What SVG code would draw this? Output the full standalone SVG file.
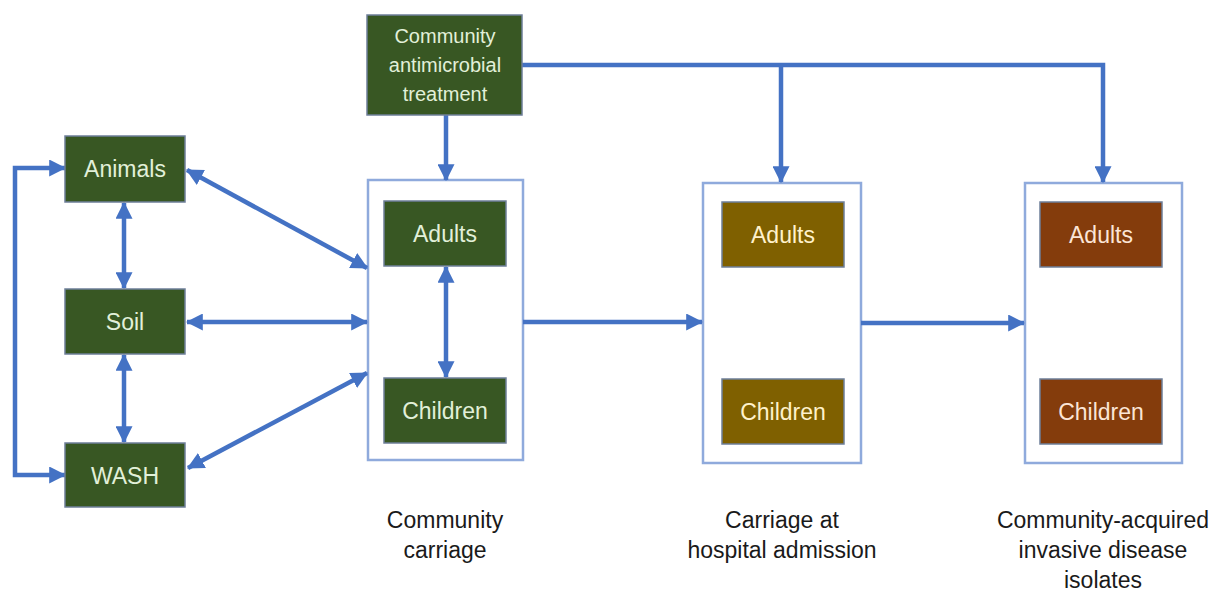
<svg xmlns="http://www.w3.org/2000/svg" width="1228" height="596" viewBox="0 0 1228 596">
  <style>
    text { font-family: "Liberation Sans", Arial, sans-serif; text-anchor: middle; }
    .green { fill: #385723; stroke: #6e7f99; stroke-width: 1.5; }
    .gold { fill: #7f6000; stroke: #6e7f99; stroke-width: 1.5; }
    .rust { fill: #843c0c; stroke: #6e7f99; stroke-width: 1.5; }
    .frame { fill: #ffffff; stroke: #8faadc; stroke-width: 2.5; }
    .t-green { fill: #e2f0d9; font-size: 23px; }
    .t-gold { fill: #fff2cc; font-size: 23px; }
    .t-rust { fill: #fbe5d6; font-size: 23px; }
    .t-small { fill: #e2f0d9; font-size: 20px; }
    .caption { fill: #1a1a1a; font-size: 23px; }
    .link { fill: none; stroke: #4472c4; stroke-width: 4.5; }
  </style>
  <defs>
    <marker id="head" viewBox="0 0 14 14" refX="13" refY="7" markerWidth="17" markerHeight="17" markerUnits="userSpaceOnUse" orient="auto-start-reverse">
      <path d="M0,0 L14,7 L0,14 z" fill="#4472c4"/>
    </marker>
  </defs>

  <rect width="1228" height="596" fill="#ffffff"/>

  <!-- stage frames -->
  <g id="frame-community">
    <rect class="frame" x="368" y="180" width="155" height="280"/>
  </g>
  <g id="frame-hospital">
    <rect class="frame" x="703" y="183" width="158" height="280"/>
  </g>
  <g id="frame-invasive">
    <rect class="frame" x="1025" y="183" width="157" height="280"/>
  </g>

  <!-- connectors -->
  <g id="connectors">
    <path class="link" d="M65,168 L15,168 L15,475 L65,475" marker-start="url(#head)" marker-end="url(#head)"/>
    <path class="link" d="M124,203 L124,288" marker-start="url(#head)" marker-end="url(#head)"/>
    <path class="link" d="M124,355 L124,442" marker-start="url(#head)" marker-end="url(#head)"/>
    <path class="link" d="M187,170 L367,268" marker-start="url(#head)" marker-end="url(#head)"/>
    <path class="link" d="M187,322 L367,322" marker-start="url(#head)" marker-end="url(#head)"/>
    <path class="link" d="M188,468 L367,373" marker-start="url(#head)" marker-end="url(#head)"/>
    <path class="link" d="M446,115 L446,180" marker-end="url(#head)"/>
    <path class="link" d="M446,267 L446,377" marker-start="url(#head)" marker-end="url(#head)"/>
    <path class="link" d="M523,322 L702,322" marker-end="url(#head)"/>
    <path class="link" d="M861,323 L1024,323" marker-end="url(#head)"/>
    <path class="link" d="M522,65 L1103,65 L1103,182" marker-end="url(#head)"/>
    <path class="link" d="M781,65 L781,182" marker-end="url(#head)"/>
  </g>

  <!-- environmental sources -->
  <g id="animals">
    <rect class="green" x="65" y="136" width="120" height="66"/>
    <text class="t-green" x="125" y="177">Animals</text>
  </g>
  <g id="soil">
    <rect class="green" x="65" y="289" width="120" height="65"/>
    <text class="t-green" x="125" y="330">Soil</text>
  </g>
  <g id="wash">
    <rect class="green" x="65" y="443" width="120" height="64"/>
    <text class="t-green" x="125" y="484">WASH</text>
  </g>

  <!-- treatment -->
  <g id="treatment">
    <rect class="green" x="367" y="15" width="155" height="100"/>
    <text class="t-small" x="445" y="43">Community</text>
    <text class="t-small" x="445" y="72">antimicrobial</text>
    <text class="t-small" x="445" y="101">treatment</text>
  </g>

  <!-- community carriage -->
  <g id="community-adults">
    <rect class="green" x="384" y="201" width="122" height="65"/>
    <text class="t-green" x="445" y="242">Adults</text>
  </g>
  <g id="community-children">
    <rect class="green" x="384" y="378" width="122" height="65"/>
    <text class="t-green" x="445" y="419">Children</text>
  </g>

  <!-- hospital admission -->
  <g id="hospital-adults">
    <rect class="gold" x="722" y="202" width="122" height="65"/>
    <text class="t-gold" x="783" y="243">Adults</text>
  </g>
  <g id="hospital-children">
    <rect class="gold" x="722" y="379" width="122" height="65"/>
    <text class="t-gold" x="783" y="420">Children</text>
  </g>

  <!-- invasive disease -->
  <g id="invasive-adults">
    <rect class="rust" x="1040" y="202" width="122" height="65"/>
    <text class="t-rust" x="1101" y="243">Adults</text>
  </g>
  <g id="invasive-children">
    <rect class="rust" x="1040" y="379" width="122" height="65"/>
    <text class="t-rust" x="1101" y="420">Children</text>
  </g>

  <!-- captions -->
  <g id="captions">
    <text class="caption" x="445" y="528">Community</text>
    <text class="caption" x="445" y="558">carriage</text>
    <text class="caption" x="782" y="528">Carriage at</text>
    <text class="caption" x="782" y="558">hospital admission</text>
    <text class="caption" x="1103" y="528">Community-acquired</text>
    <text class="caption" x="1103" y="558">invasive disease</text>
    <text class="caption" x="1103" y="588">isolates</text>
  </g>
</svg>
